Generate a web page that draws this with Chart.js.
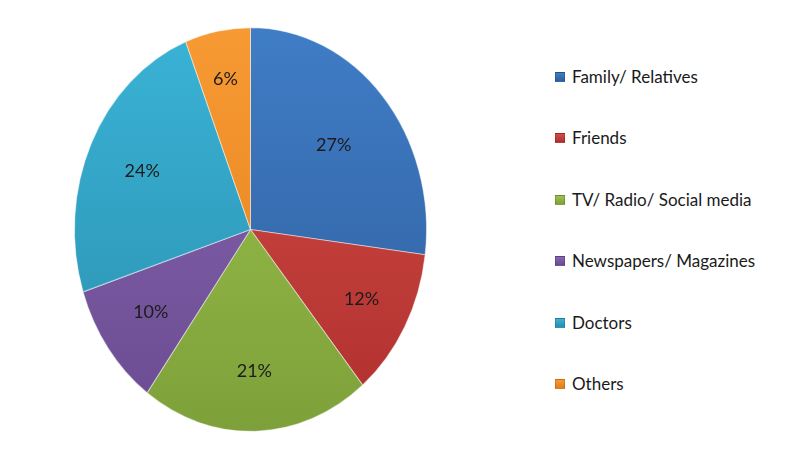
<!DOCTYPE html>
<html>
<head>
<meta charset="utf-8">
<script src="https://cdn.jsdelivr.net/npm/chart.js@4.4.0/dist/chart.umd.min.js"></script>
<style>
  body { margin: 0; background: #fff; }
  #wrap { position: relative; width: 800px; height: 450px; font-family: Lato, "Open Sans", sans-serif; }
  #pieBox { position: absolute; left: 0; top: 0; width: 501px; height: 450px; }
  #legend { position: absolute; left: 555px; top: 67px; margin: 0; padding: 0; list-style: none; }
  #legend li { height: 20px; line-height: 20px; margin-bottom: 41.4px; font-size: 17px; color: #1a1a1a; display: flex; align-items: center; white-space: nowrap; }
  #legend .sw { width: 10px; height: 10px; margin-right: 7px; border: 1px solid rgba(0,0,0,0.15); box-sizing: border-box; }
</style>
</head>
<body>
<div id="wrap">
  <div id="pieBox"><canvas id="pieChart"></canvas></div>
  <ul id="legend"></ul>
</div>
<script>
// data (percent of respondents)
const sources = ['Family/ Relatives', 'Friends', 'TV/ Radio/ Social media', 'Newspapers/ Magazines', 'Doctors', 'Others'];
const shares = [27, 12, 21, 10, 24, 6];

// light (top) and dark (bottom) shade of each slice
const lightColors = ['#3f7dc6', '#d24c48', '#9cc44c', '#8866b2', '#3ab3d6', '#f89a34'];
const darkColors = ['#305d9c', '#b0302d', '#7ea03a', '#6a4b90', '#2a8fae', '#e07f1c'];
const swatchColors = ['#3a6fb2', '#c0403c', '#8db443', '#7a5aa2', '#31a2c4', '#ee8c28'];

// how far out (fraction of radius) each percent label sits
const labelDepth = [0.63, 0.72, 0.7, 0.7, 0.68, 0.76];

// pie is drawn taller than wide in the original
const stretchY = 1.147;

function sliceFill(c) {
  const chart = c.chart;
  const area = chart.chartArea;
  if (!area) return swatchColors[c.dataIndex];
  const g = chart.ctx.createLinearGradient(0, area.top, 0, area.bottom);
  g.addColorStop(0, lightColors[c.dataIndex]);
  g.addColorStop(1, darkColors[c.dataIndex]);
  return g;
}

const ellipsePlugin = {
  id: 'ellipse',
  beforeDatasetsDraw(chart) {
    const arc = chart.getDatasetMeta(0).data[0];
    if (!arc) return;
    const ctx = chart.ctx;
    ctx.save();
    ctx.translate(arc.x, arc.y);
    ctx.scale(1, stretchY);
    ctx.translate(-arc.x, -arc.y);
  },
  afterDatasetsDraw(chart) {
    const meta = chart.getDatasetMeta(0);
    if (!meta.data.length) return;
    const ctx = chart.ctx;
    ctx.restore();
    // percent labels inside slices
    ctx.save();
    ctx.font = '18px Lato, "Open Sans", sans-serif';
    ctx.fillStyle = '#1c1c1c';
    ctx.textAlign = 'center';
    ctx.textBaseline = 'middle';
    meta.data.forEach((arc, i) => {
      const mid = (arc.startAngle + arc.endAngle) / 2;
      const r = arc.outerRadius * labelDepth[i];
      const x = arc.x + Math.cos(mid) * r;
      const y = arc.y + Math.sin(mid) * r * stretchY;
      ctx.fillText(shares[i] + '%', x, y);
    });
    ctx.restore();
  }
};

new Chart(document.getElementById('pieChart'), {
  type: 'pie',
  data: {
    labels: sources,
    datasets: [{
      data: shares,
      backgroundColor: sliceFill,
      borderColor: 'rgba(255,255,255,0.45)',
      borderWidth: 1,
      clip: false
    }]
  },
  options: {
    responsive: true,
    maintainAspectRatio: false,
    animation: false,
    layout: { padding: { top: 53, bottom: 44, left: 0, right: 0 } },
    plugins: {
      legend: { display: false },
      tooltip: { enabled: false }
    }
  },
  plugins: [ellipsePlugin]
});

// legend on the right
const legendEl = document.getElementById('legend');
sources.forEach((name, i) => {
  const li = document.createElement('li');
  const sw = document.createElement('span');
  sw.className = 'sw';
  sw.style.background = 'linear-gradient(' + lightColors[i] + ',' + darkColors[i] + ')';
  li.appendChild(sw);
  li.appendChild(document.createTextNode(name));
  legendEl.appendChild(li);
});
</script>
</body>
</html>
